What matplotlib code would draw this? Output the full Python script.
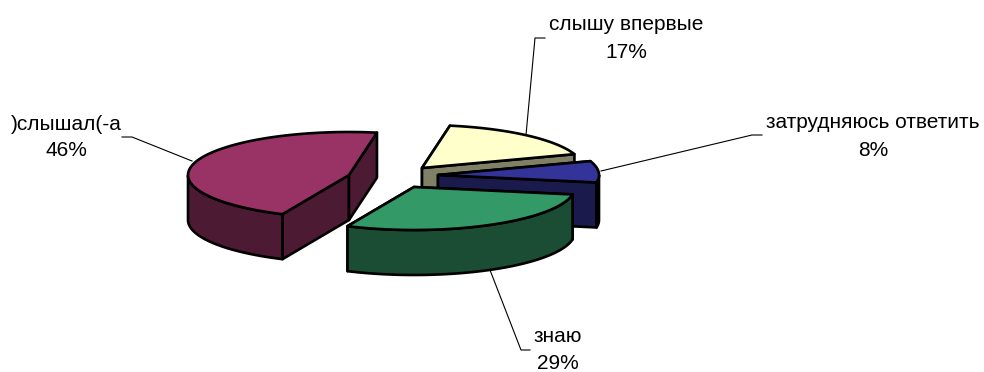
import numpy as np
import matplotlib
matplotlib.use("Agg")
import matplotlib.pyplot as plt
from matplotlib.patches import Polygon

# Data
categories = ["слышу впервые", "затрудняюсь ответить", "знаю", ")слышал(-а"]
values = [17, 8, 29, 46]

# Style and layout
top_colors = ["#FFFFCC", "#333399", "#339966", "#993366"]
wall_colors = ["#808066", "#1A1A4D", "#1A4D33", "#4D1A33"]
apex_px = [(422, 168), (438, 175), (414, 187), (349, 175)]
label_px = [(626, 25), (873, 123), (558, 336.5), (66, 124)]
leaders_px = [
    [(545, 38), (535, 38), (526, 135)],
    [(601, 171), (752, 135), (762, 135)],
    [(490, 270), (521, 350), (530, 350)],
    [(122, 137), (132, 137), (192, 161)],
]
draw_order = [0, 1, 3, 2]
RX, RY, DEPTH, START = 161.0, 43.0, 45.0, 10.0
LW = 1.9

fig = plt.figure(figsize=(9.84, 3.72), dpi=100)
ax = fig.add_axes([0, 0, 1, 1])
ax.set_xlim(0, 984)
ax.set_ylim(372, 0)
ax.axis("off")

edges = START + np.concatenate([[0], np.cumsum(values)]) * 360.0 / sum(values)


def rim(apex, t0, t1, n=80):
    t = np.radians(np.linspace(t0, t1, n))
    return np.column_stack([apex[0] + RX * np.sin(t), apex[1] - RY * np.cos(t)])


def add(pts, color, z):
    ax.add_patch(Polygon(pts, closed=True, facecolor=color, edgecolor="black",
                         linewidth=LW, joinstyle="round", zorder=z))


down = np.array([0, DEPTH])
for rank, i in enumerate(draw_order):
    apex = np.array(apex_px[i], float)
    arc = rim(apex, edges[i], edges[i + 1])
    z = 2 + rank * 0.1
    # cut faces
    for end in (arc[0], arc[-1]):
        add(np.array([apex, end, end + down, apex + down]), wall_colors[i], z)
    # outer wall: only the part of the rim that faces the viewer
    t = np.linspace(edges[i], edges[i + 1], 200)
    t_front = t[np.cos(np.radians(t)) <= 0]
    if len(t_front) > 1:
        front = rim(apex, t_front[0], t_front[-1])
        add(np.vstack([front, (front + down)[::-1]]), wall_colors[i], z)
    add(np.vstack([apex, arc]), top_colors[i], z + 0.05)

for i, name in enumerate(categories):
    xs, ys = zip(*leaders_px[i])
    ax.plot(xs, ys, color="black", lw=0.8, zorder=1)
    x, y = label_px[i]
    ax.text(x, y, name, ha="center", va="center", fontsize=15,
            family="Liberation Sans", color="black")
    ax.text(x, y + 27, f"{values[i]}%", ha="center", va="center", fontsize=15,
            family="Liberation Sans", color="black")

fig.savefig("out.png", dpi=100)
